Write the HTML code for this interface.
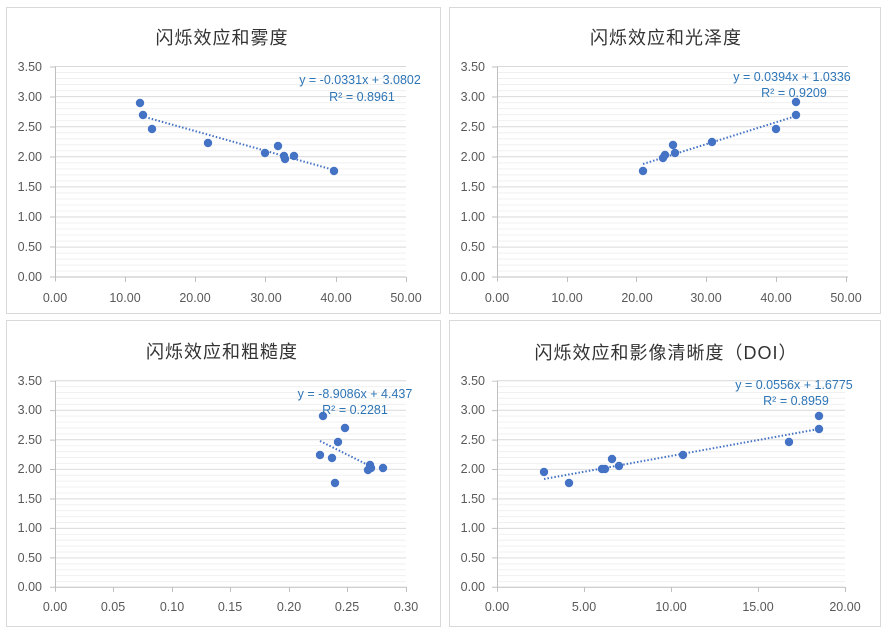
<!DOCTYPE html><html><head><meta charset="utf-8"><style>body{margin:0;background:#fff}svg{display:block}text{font-family:"Liberation Sans","Noto Sans CJK SC",sans-serif}</style></head><body>
<svg width="888" height="632" xmlns="http://www.w3.org/2000/svg">
<rect width="888" height="632" fill="#fff"/>
<g fill="none" stroke="#d9d9d9"><rect x="6.5" y="7.5" width="434" height="306"/><rect x="449.5" y="7.5" width="431" height="306"/><rect x="6.5" y="320.5" width="434" height="306"/><rect x="449.5" y="320.5" width="431" height="306"/></g>
<defs>
<g id="g1"><path d="M0,6.02h351M0,12.04h351M0,18.06h351M0,24.08h351M0,36.12h351M0,42.14h351M0,48.16h351M0,54.18h351M0,66.22h351M0,72.24h351M0,78.26h351M0,84.28h351M0,96.32h351M0,102.34h351M0,108.36h351M0,114.38h351M0,126.42h351M0,132.44h351M0,138.46h351M0,144.48h351M0,156.52h351M0,162.54h351M0,168.56h351M0,174.58h351M0,186.62h351M0,192.64h351M0,198.66h351M0,204.68h351" stroke="#f0f0f0"/>
<path d="M0,0h351M0,30.1h351M0,60.2h351M0,90.3h351M0,120.4h351M0,150.5h351M0,180.6h351" stroke="#d9d9d9"/>
<path d="M-5,210.5h356M0.5,0v215M-5,0.5h5M-5,30.5h5M-5,60.5h5M-5,90.5h5M-5,120.5h5M-5,150.5h5M-5,180.5h5" stroke="#bfbfbf"/></g>
</defs>
<g font-size="12.5" fill="#595959" text-anchor="end">
<text x="42" y="71">3.50</text><text x="42" y="101">3.00</text><text x="42" y="131">2.50</text><text x="42" y="161">2.00</text><text x="42" y="221">1.00</text><text x="42" y="191">1.50</text><text x="42" y="251">0.50</text><text x="42" y="281">0.00</text>
<text x="485" y="71">3.50</text><text x="485" y="101">3.00</text><text x="485" y="131">2.50</text><text x="485" y="161">2.00</text><text x="485" y="191">1.50</text><text x="485" y="221">1.00</text><text x="485" y="251">0.50</text><text x="485" y="281">0.00</text>
<text x="42" y="385">3.50</text><text x="42" y="414">3.00</text><text x="42" y="444">2.50</text><text x="42" y="473">2.00</text><text x="42" y="503">1.50</text><text x="42" y="532">1.00</text><text x="42" y="562">0.50</text><text x="42" y="591">0.00</text>
<text x="485" y="385">3.50</text><text x="485" y="414">3.00</text><text x="485" y="444">2.50</text><text x="485" y="473">2.00</text><text x="485" y="503">1.50</text><text x="485" y="532">1.00</text><text x="485" y="562">0.50</text><text x="485" y="591">0.00</text>
</g>
<g transform="translate(55,66.5)"><use href="#g1"/></g>
<g transform="translate(497,66.5)"><use href="#g1"/></g>
<g transform="translate(55,380.7) scale(1,0.9814)"><use href="#g1"/></g>
<g transform="translate(497,380.7) scale(0.9915,0.9814)"><use href="#g1"/></g>
<g stroke="#bfbfbf"><path d="M125.5,277v5M195.5,277v5M265.5,277v5M336.5,277v5M406.5,277v5M567.5,277v5M636.5,277v5M706.5,277v5M776.5,277v5M846.5,277v5M113.5,587v5M172.5,587v5M230.5,587v5M289.5,587v5M347.5,587v5M406.5,587v5M584.5,587v5M671.5,587v5M758.5,587v5M845.5,587v5"/></g>
<g font-size="12.5" fill="#595959" text-anchor="middle">
<text x="55" y="302">0.00</text><text x="125" y="302">10.00</text><text x="195" y="302">20.00</text><text x="266" y="302">30.00</text><text x="336" y="302">40.00</text><text x="406" y="302">50.00</text>
<text x="497" y="302">0.00</text><text x="567" y="302">10.00</text><text x="637" y="302">20.00</text><text x="706" y="302">30.00</text><text x="776" y="302">40.00</text><text x="846" y="302">50.00</text>
<text x="55" y="611">0.00</text><text x="113" y="611">0.05</text><text x="172" y="611">0.10</text><text x="230" y="611">0.15</text><text x="289" y="611">0.20</text><text x="347" y="611">0.25</text><text x="406" y="611">0.30</text>
<text x="497" y="611">0.00</text><text x="584" y="611">5.00</text><text x="671" y="611">10.00</text><text x="758" y="611">15.00</text><text x="845" y="611">20.00</text>
</g>
<g font-size="18" fill="#333" text-anchor="middle" letter-spacing="1">
<text x="222" y="44">闪烁效应和雾度</text><text x="666" y="44">闪烁效应和光泽度</text><text x="222" y="358">闪烁效应和粗糙度</text><text x="666" y="359">闪烁效应和影像清晰度（DOI）</text>
</g>
<g stroke="#4472c4" stroke-width="2" stroke-dasharray="1.5,2" fill="none">
<path d="M145,117L334,170M643,164L796,116M320,441L370,466M544,479L819,429"/>
</g>
<g fill="#4472c4">
<circle cx="140" cy="103" r="4.2"/><circle cx="143" cy="115" r="4.2"/><circle cx="152" cy="129" r="4.2"/><circle cx="208" cy="143" r="4.2"/><circle cx="265" cy="153" r="4.2"/><circle cx="278" cy="146" r="4.2"/><circle cx="284" cy="156" r="4.2"/><circle cx="285" cy="159" r="4.2"/><circle cx="294" cy="156" r="4.2"/><circle cx="334" cy="171" r="4.2"/>
<circle cx="643" cy="171" r="4.2"/><circle cx="663" cy="158" r="4.2"/><circle cx="665" cy="155" r="4.2"/><circle cx="673" cy="145" r="4.2"/><circle cx="675" cy="153" r="4.2"/><circle cx="712" cy="142" r="4.2"/><circle cx="776" cy="129" r="4.2"/><circle cx="796" cy="115" r="4.2"/><circle cx="796" cy="102" r="4.2"/>
<circle cx="323" cy="416" r="4.2"/><circle cx="345" cy="428" r="4.2"/><circle cx="338" cy="442" r="4.2"/><circle cx="320" cy="455" r="4.2"/><circle cx="332" cy="458" r="4.2"/><circle cx="335" cy="483" r="4.2"/><circle cx="370" cy="465" r="4.2"/><circle cx="371" cy="468" r="4.2"/><circle cx="368" cy="470" r="4.2"/><circle cx="383" cy="468" r="4.2"/>
<circle cx="544" cy="472" r="4.2"/><circle cx="569" cy="483" r="4.2"/><circle cx="602" cy="469" r="4.2"/><circle cx="605" cy="469" r="4.2"/><circle cx="612" cy="459" r="4.2"/><circle cx="619" cy="466" r="4.2"/><circle cx="683" cy="455" r="4.2"/><circle cx="789" cy="442" r="4.2"/><circle cx="819" cy="429" r="4.2"/><circle cx="819" cy="416" r="4.2"/>
</g>
<g font-size="12.5" fill="#2e75b6" text-anchor="middle">
<text x="360" y="84">y = -0.0331x + 3.0802</text><text x="362" y="101">R² = 0.8961</text>
<text x="792" y="81">y = 0.0394x + 1.0336</text><text x="794" y="97">R² = 0.9209</text>
<text x="355" y="398">y = -8.9086x + 4.437</text><text x="355" y="414">R² = 0.2281</text>
<text x="794" y="389">y = 0.0556x + 1.6775</text><text x="796" y="405">R² = 0.8959</text>
</g>
</svg></body></html>
